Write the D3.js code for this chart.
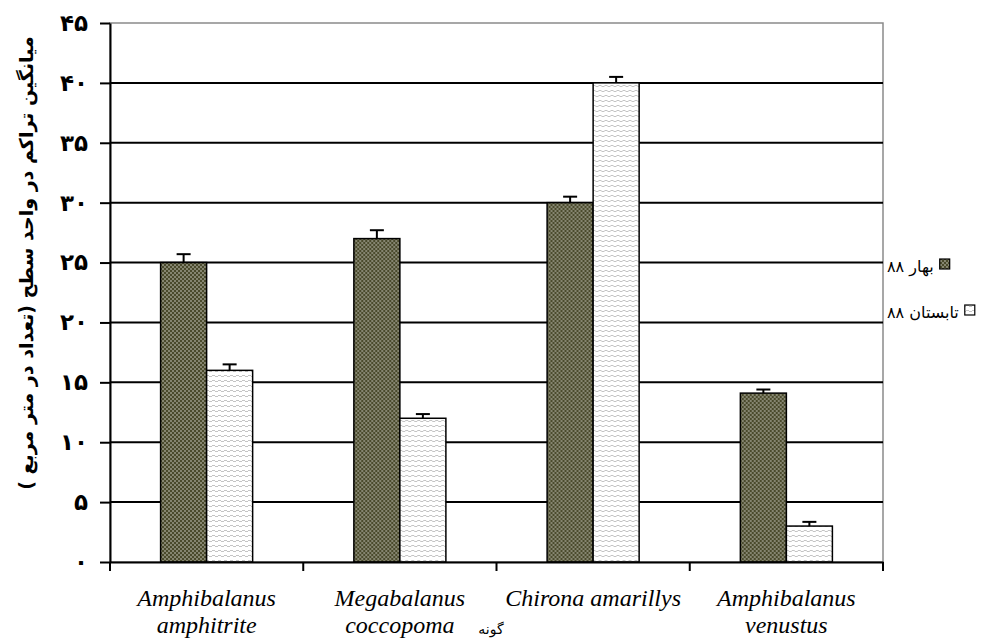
<!DOCTYPE html>
<html><head><meta charset="utf-8">
<script src="https://cdn.jsdelivr.net/npm/d3@7"></script>
<style>body{margin:0;background:#fff} svg{display:block}</style>
</head><body>
<svg id="chart" width="1006" height="644"></svg>
<script>
// ---- data ----
const categories = ["Amphibalanus amphitrite", "Megabalanus coccopoma", "Chirona amarillys", "Amphibalanus venustus"];
const categoryLines = [["Amphibalanus", "amphitrite"], ["Megabalanus", "coccopoma"], ["Chirona amarillys"], ["Amphibalanus", "venustus"]];
const seriesNames = ["بهار ۸۸", "تابستان ۸۸"];
const spring88 = [25, 27, 30, 14.1];
const summer88 = [16, 12, 40, 3];
const spring88Err = [0.7, 0.7, 0.5, 0.3];
const summer88Err = [0.5, 0.35, 0.5, 0.35];
const yTicks = [0, 5, 10, 15, 20, 25, 30, 35, 40, 45];
const yTickLabels = ["۰", "۵", "۱۰", "۱۵", "۲۰", "۲۵", "۳۰", "۳۵", "۴۰", "۴۵"];
const yTitle = "میانگین تراکم در واحد سطح (تعداد در متر مربع )";
const xTitle = "گونه";

// ---- layout ----
const L = 110, R = 883, T = 23, B = 562;
const svg = d3.select("#chart");
const defs = svg.append("defs");

const pd = defs.append("pattern").attr("id", "pDark").attr("patternUnits", "userSpaceOnUse").attr("width", 4).attr("height", 4);
pd.append("rect").attr("width", 4).attr("height", 4).attr("fill", "#4a4a2c");
pd.append("rect").attr("x", 0).attr("y", 0).attr("width", 2).attr("height", 2).attr("fill", "#858570");
pd.append("rect").attr("x", 2).attr("y", 2).attr("width", 2).attr("height", 2).attr("fill", "#858570");

const pl = defs.append("pattern").attr("id", "pLight").attr("patternUnits", "userSpaceOnUse").attr("width", 6).attr("height", 5);
pl.append("rect").attr("width", 6).attr("height", 5).attr("fill", "#ffffff");
pl.append("rect").attr("x", 0).attr("y", 0).attr("width", 3).attr("height", 1).attr("fill", "#c4c4c4");
pl.append("rect").attr("x", 3).attr("y", 1).attr("width", 3).attr("height", 1).attr("fill", "#c4c4c4");

const fills = ["url(#pDark)", "url(#pLight)"];

const x = d3.scaleBand().domain(categories).range([L, R]).paddingInner(0).paddingOuter(0);
const bw = x.bandwidth();
const barW = bw / 4.2;
const xs = d3.scaleBand().domain([0, 1]).range([bw / 2 - barW, bw / 2 + barW]).padding(0);
const y = d3.scaleLinear().domain([0, 45]).range([B, T]);

// plot border
svg.append("rect").attr("x", L).attr("y", T).attr("width", R - L).attr("height", B - T)
  .attr("fill", "none").attr("stroke", "#8a8a8a").attr("stroke-width", 1.5);

// gridlines
svg.append("g").selectAll("line").data(yTicks.filter(d => d > 0 && d < 45)).join("line")
  .attr("x1", L).attr("x2", R).attr("y1", d => y(d)).attr("y2", d => y(d))
  .attr("stroke", "#000").attr("stroke-width", 2);

// bars
const rows = categories.map((c, i) => ({ c, vals: [spring88[i], summer88[i]], errs: [spring88Err[i], summer88Err[i]] }));
const groups = svg.append("g").selectAll("g").data(rows).join("g")
  .attr("transform", d => `translate(${x(d.c)},0)`);
groups.selectAll("rect").data(d => d.vals.map((v, k) => ({ v, k }))).join("rect")
  .attr("x", d => xs(d.k)).attr("width", xs.bandwidth())
  .attr("y", d => y(d.v)).attr("height", d => B - y(d.v))
  .attr("fill", d => fills[d.k]).attr("stroke", "#000").attr("stroke-width", 1.5);

// error bars
const eb = groups.selectAll("g.err").data(d => d.vals.map((v, k) => ({ v, e: d.errs[k], k }))).join("g").attr("class", "err");
eb.append("line")
  .attr("x1", d => xs(d.k) + xs.bandwidth() / 2).attr("x2", d => xs(d.k) + xs.bandwidth() / 2)
  .attr("y1", d => y(d.v)).attr("y2", d => y(d.v + d.e))
  .attr("stroke", "#000").attr("stroke-width", 2);
eb.append("line")
  .attr("x1", d => xs(d.k) + xs.bandwidth() / 2 - 7).attr("x2", d => xs(d.k) + xs.bandwidth() / 2 + 7)
  .attr("y1", d => y(d.v + d.e)).attr("y2", d => y(d.v + d.e))
  .attr("stroke", "#000").attr("stroke-width", 2);

// y axis
const yAxis = svg.append("g").attr("transform", `translate(${L},0)`)
  .call(d3.axisLeft(y).tickValues(yTicks).tickSize(10).tickSizeOuter(0).tickPadding(12)
    .tickFormat((d, i) => yTickLabels[i]));
yAxis.select(".domain").attr("stroke", "#000").attr("stroke-width", 2);
yAxis.selectAll(".tick line").attr("stroke", "#000").attr("stroke-width", 2);
yAxis.selectAll(".tick text").attr("font-family", "DejaVu Sans").attr("font-weight", "bold")
  .attr("font-size", 23).attr("fill", "#000");

// x axis
const xAxis = svg.append("g").attr("transform", `translate(0,${B})`)
  .call(d3.axisBottom(x).tickSize(0).tickFormat(""));
xAxis.select(".domain").attr("stroke", "#000").attr("stroke-width", 2);
const bounds = categories.map(c => x(c)).concat([x.range()[1]]);
svg.append("g").selectAll("line").data(bounds).join("line")
  .attr("x1", d => d).attr("x2", d => d).attr("y1", B).attr("y2", B + 9)
  .attr("stroke", "#000").attr("stroke-width", 2);

// category labels
const cl = svg.append("g").selectAll("text").data(categories).join("text")
  .attr("x", d => x(d) + bw / 2).attr("y", 606)
  .attr("text-anchor", "middle").attr("font-family", "'Liberation Serif', 'DejaVu Serif', serif").attr("font-style", "italic")
  .attr("font-size", 24).attr("fill", "#000");
cl.each(function (d, i) {
  d3.select(this).selectAll("tspan").data(categoryLines[i]).join("tspan")
    .attr("x", x(d) + bw / 2).attr("dy", (t, j) => j === 0 ? 0 : 27).text(t => t);
});

// x title
svg.append("text").attr("x", 491).attr("y", 634).attr("text-anchor", "middle")
  .attr("font-family", "DejaVu Sans").attr("font-size", 14).attr("fill", "#000").text(xTitle);

// y title
svg.append("text").attr("transform", "translate(26,263) rotate(-90)")
  .attr("text-anchor", "middle").attr("dominant-baseline", "central")
  .style("direction", "rtl").style("unicode-bidi", "embed")
  .attr("font-family", "DejaVu Sans").attr("font-weight", "bold").attr("font-size", 19)
  .attr("fill", "#000").text(yTitle);

// legend: text then swatch on its right
const legY = [272, 318];
seriesNames.forEach((name, k) => {
  const t = svg.append("text").attr("x", 887).attr("y", legY[k])
    .attr("font-family", "DejaVu Sans").attr("font-size", 16).attr("fill", "#000").text(name);
  const w = t.node().getComputedTextLength();
  svg.append("rect").attr("x", 887 + w + 6).attr("y", legY[k] - 13).attr("width", 10).attr("height", 10)
    .attr("fill", fills[k]).attr("stroke", "#000").attr("stroke-width", 1.2);
});
</script>
</body></html>
